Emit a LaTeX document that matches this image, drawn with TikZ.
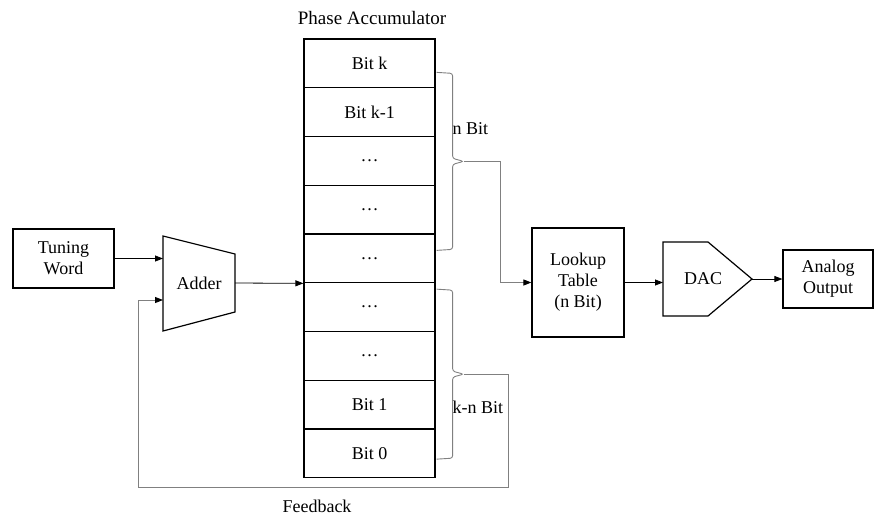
\documentclass[tikz,border=0pt]{standalone}
\usepackage{fontspec}
\setmainfont{Liberation Serif}
\usetikzlibrary{positioning,calc,arrows.meta}

\begin{document}
\begin{tikzpicture}[
    x=1pt, y=-1pt,
    every node/.style={font=\fontsize{18}{21}\selectfont},
    block/.style={rectangle, draw, line width=1.2pt, align=center, inner sep=0pt},
    cell/.style={rectangle, draw, line width=1.2pt, minimum width=131pt, minimum height=48.75pt, inner sep=0pt},
    outline/.style={line width=1.2pt},
    arrow/.style={-{Triangle[length=8pt,width=6pt]}, line width=0.8pt},
    garrow/.style={-{Triangle[length=8pt,width=6pt,color=black]}, line width=0.9pt, draw=gray},
    bracket/.style={line width=0.9pt, draw=gray, rounded corners=2.5pt}
]
    \useasboundingbox (0,0) rectangle (874,517);

    % phase accumulator
    \node[font=\fontsize{19}{22}\selectfont] (phase) at (372,18) {Phase Accumulator};
    \foreach \lab [count=\i] in {Bit k, Bit k-1, …, …, …, …, …, Bit 1, Bit 0}
        \node[cell] (row\i) at (369.5, {39+48.75*(\i-0.5)}) {\lab};

    % input side
    \node[block, minimum width=101pt, minimum height=59pt] (tuning) at (63.5,258.5) {Tuning\\Word};
    \node (adder) at (199,283) {Adder};
    \coordinate (addTL) at (163,236);
    \coordinate (addR) at (235,283);
    \coordinate (addIn) at (163,300);
    \draw[outline] (addTL) -- (235,254) -- (235,312) -- (163,331) -- cycle;

    % output side
    \node[block, minimum width=92pt, minimum height=109pt] (lookup) at (578,282.5) {Lookup\\Table\\(n Bit)};
    \node (dac) at (703,279) {DAC};
    \coordinate (dacL) at (663,279);
    \coordinate (dacT) at (752,279);
    \draw[outline] (663,242) -- (708,242) -- (dacT) -- (708,316) -- (663,316) -- cycle;
    \node[block, minimum width=90pt, minimum height=58pt] (analog) at (828,279) {Analog\\Output};

    \draw[arrow] (tuning.east) -- (tuning.east -| addTL);
    \draw[arrow] (addR) -- (row5.south west);
    \draw[arrow] (lookup.east) -- (lookup.east -| dacL);
    \draw[arrow] (dacT) -- (analog.west);

    % bit groups
    \draw[bracket] ($(row1.east)+(1,9)$) -- ++(16,1) -- ++(0,85) -- ++(11,3) coordinate (ntip)
        -- ++(-11,3) -- ++(0,85) -- ++(-16,1);
    \node[right] (nbit) at (449,129) {n Bit};
    \coordinate (nbend) at (500,282.5);
    \draw[garrow] (ntip) -| (nbend) -- (lookup.west);

    \draw[bracket] ($(row6.north east)+(1,7)$) -- ++(16,1) -- ++(0,81) -- ++(11,3) coordinate (ktip)
        -- ++(-11,3) -- ++(0,81) -- ++(-16,1);
    \node[right] (knbit) at (449,407) {k-n Bit};

    % feedback loop
    \coordinate (fbR) at (508,487);
    \coordinate (fbL) at (138,487);
    \draw[garrow] (ktip) -| (fbR) -- (fbL) |- (addIn);
    \node (feedback) at (317,506) {Feedback};
\end{tikzpicture}
\end{document}
